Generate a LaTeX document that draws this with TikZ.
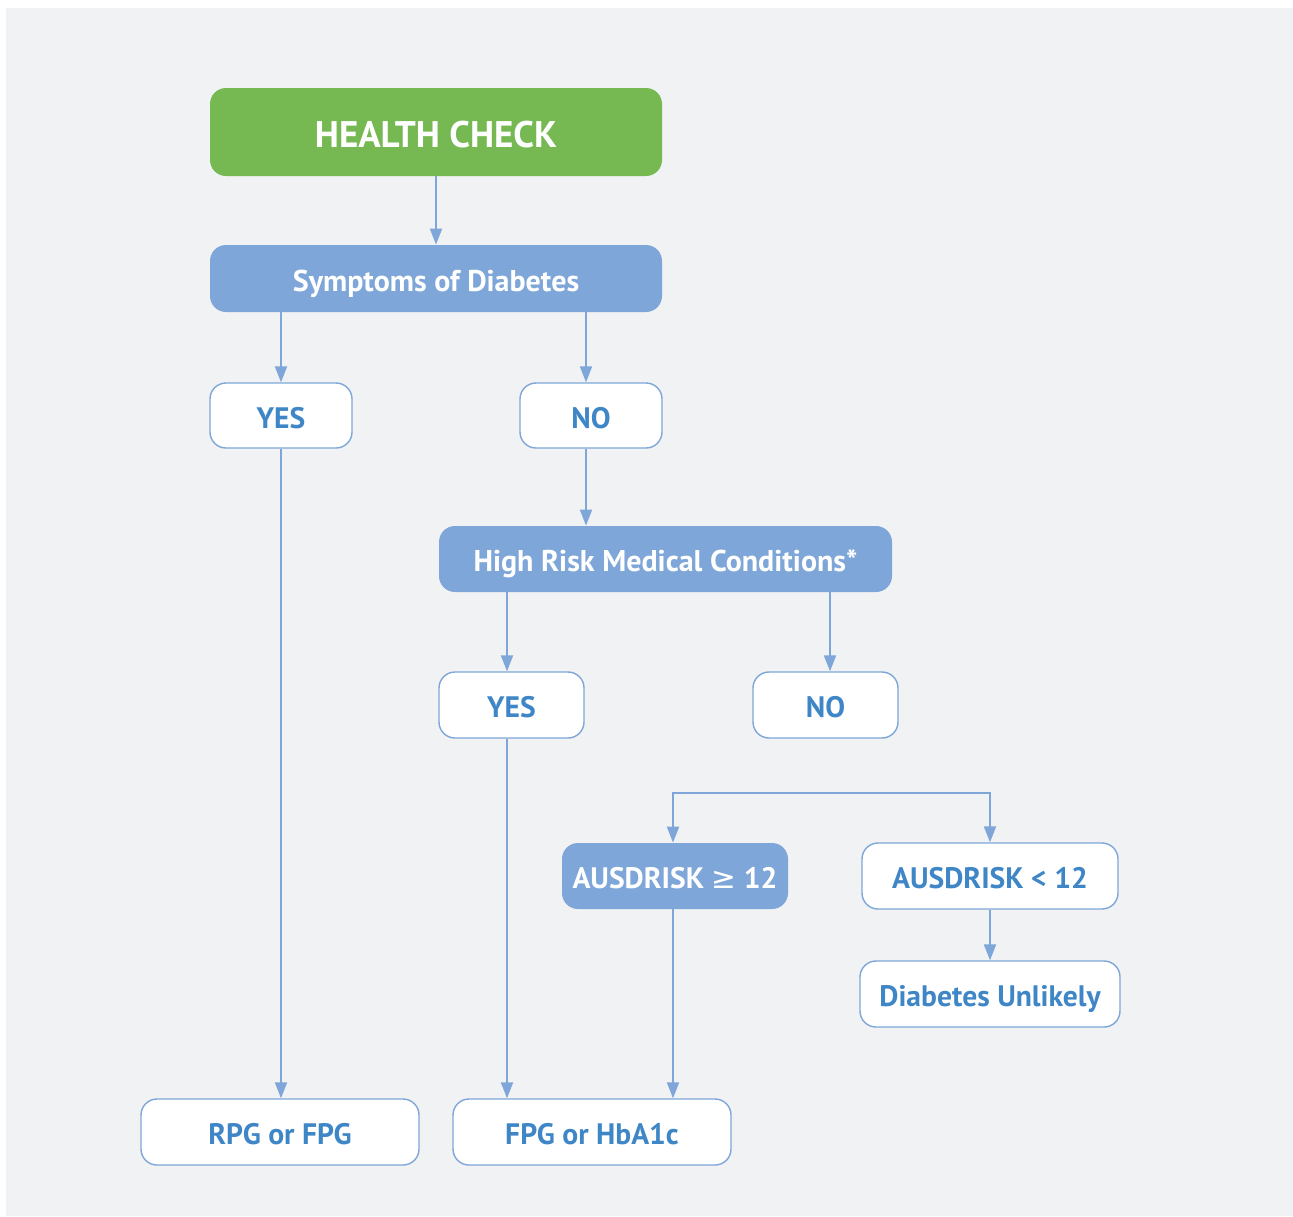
\documentclass[tikz,border=0pt]{standalone}
\usepackage{fontspec}
\setmainfont{PT Sans}
\newfontfamily\symfont{DejaVu Sans}
\usepackage{tikz}
\usetikzlibrary{arrows.meta, positioning, calc}
\definecolor{hcgreen}{HTML}{76B852}
\definecolor{hcblue}{HTML}{7EA6D8}
\definecolor{hctext}{HTML}{3F86C7}
\definecolor{hcback}{HTML}{F1F2F4}

\begin{document}
\begin{tikzpicture}[x=0.5pt,y=-0.5pt,
  box/.style={rectangle, rounded corners=8pt, inner sep=0pt, minimum height=33pt,
    text height=12.5pt, text depth=0pt, font=\bfseries\fontsize{14.8}{17}\selectfont},
  head node/.style={box, fill=hcgreen, text=white, minimum height=44pt,
    text height=15pt, font=\bfseries\fontsize{18.5}{21}\selectfont},
  blue node/.style={box, fill=hcblue, text=white},
  open node/.style={box, draw=hcblue, line width=0.7pt, fill=white, text=hctext},
  flow/.style={draw=hcblue, line width=1pt, -{Triangle[width=6pt,length=8pt]}}]
  % background
  \useasboundingbox (0,0) rectangle (1293,1216);
  \fill[hcback] (6,8) rectangle (1293,1216);
  % nodes
  \node[head node, minimum width=226pt] (hc) at (436,132) {HEALTH CHECK};
  \node[blue node, minimum width=226pt, minimum height=33.5pt,
    font=\bfseries\fontsize{15}{17}\selectfont] (sym) at (436,278.5) {Symptoms of Diabetes};
  \node[open node, minimum width=71pt, minimum height=32.5pt] (yes1) at (281,415.5) {YES};
  \node[open node, minimum width=71pt, minimum height=32.5pt] (no1) at (591,415.5) {NO};
  \node[blue node, minimum width=226.5pt, font=\bfseries\fontsize{15}{17}\selectfont]
    (risk) at (665.5,559) {High Risk Medical Conditions*};
  \node[open node, minimum width=72.5pt] (yes2) at (511.5,705) {YES};
  \node[open node, minimum width=72.5pt] (no2) at (825.5,705) {NO};
  \node[blue node, minimum width=113pt] (aushi) at (675,876) {AUSDRISK {\symfont\mdseries ≥} 12};
  \node[open node, minimum width=128pt] (auslo) at (990,876) {AUSDRISK < 12};
  \node[open node, minimum width=130pt] (unlik) at (990,994) {Diabetes Unlikely};
  \node[open node, minimum width=139pt] (rpg) at (280,1132) {RPG or FPG};
  \node[open node, minimum width=139pt] (fpg) at (592,1132) {FPG or HbA1c};
  \coordinate (fork) at (831,793);
  % connectors
  \draw[flow] (hc) -- (sym);
  \draw[flow] (sym.south -| yes1.north) -- (yes1.north);
  \draw[flow] ([xshift=-2.5pt]sym.south -| no1.north) -- ([xshift=-2.5pt]no1.north);
  \draw[flow] ([xshift=-2.5pt]no1.south) -- ([xshift=-2.5pt]no1.south |- risk.north);
  \draw[flow] ([xshift=-2.25pt]risk.south -| yes2.north) -- ([xshift=-2.25pt]yes2.north);
  \draw[flow] ([xshift=2.25pt]risk.south -| no2.north) -- ([xshift=2.25pt]no2.north);
  \draw[flow] (yes1.south) -- (yes1.south |- rpg.north);
  \draw[flow] ([xshift=-2.25pt]yes2.south) -- ([xshift=-2.25pt]yes2.south |- fpg.north);
  \draw[flow] ([xshift=-1pt]aushi.south) -- ([xshift=-1pt]aushi.south |- fpg.north);
  \draw[flow] (fork) -| ([xshift=-1pt]aushi.north);
  \draw[flow] (fork) -| (auslo.north);
  \draw[flow] (auslo) -- (unlik);
\end{tikzpicture}
\end{document}
